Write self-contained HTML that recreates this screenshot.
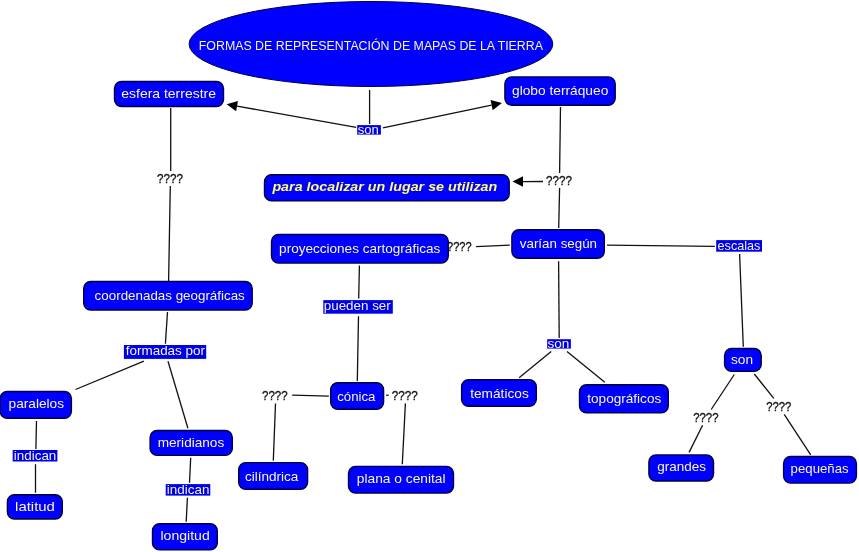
<!DOCTYPE html>
<html><head><meta charset="utf-8"><style>
html,body{margin:0;padding:0;background:#fff;width:859px;height:552px;overflow:hidden}
svg{display:block;font-family:"Liberation Sans",sans-serif;will-change:transform}
line{stroke:#111;stroke-width:1.3}
</style></head><body>
<svg width="859" height="552" viewBox="0 0 859 552">
<ellipse cx="370.95" cy="44" rx="181.85" ry="42.5" fill="#0000ff" stroke="#000040" stroke-width="1"/>
<text x="198.81" y="50" font-size="12.5" fill="#f8f8c4" textLength="344.19" lengthAdjust="spacingAndGlyphs">FORMAS DE REPRESENTACIÓN DE MAPAS DE LA TIERRA</text>
<line x1="369.6" y1="90" x2="369.6" y2="124"/>
<line x1="170.7" y1="108" x2="170.7" y2="171"/>
<line x1="170.3" y1="186" x2="168.6" y2="281"/>
<line x1="560.5" y1="107" x2="559.6" y2="173"/>
<line x1="559.6" y1="188" x2="558.7" y2="228"/>
<line x1="509.8" y1="245.2" x2="476.1" y2="246.6"/>
<line x1="607" y1="245.2" x2="714.8" y2="246.3"/>
<line x1="739.6" y1="254" x2="743.3" y2="346.7"/>
<line x1="359.4" y1="265.6" x2="358.7" y2="298.5"/>
<line x1="358.5" y1="316.2" x2="357.3" y2="380.9"/>
<line x1="328.9" y1="396.2" x2="292.2" y2="395.2"/>
<line x1="275.5" y1="403.4" x2="273.3" y2="460.6"/>
<line x1="386.1" y1="395.2" x2="388.7" y2="395.2"/>
<line x1="405.4" y1="403.4" x2="402.3" y2="464.3"/>
<line x1="558.6" y1="261.3" x2="559.2" y2="338"/>
<line x1="551.2" y1="351.4" x2="519.1" y2="377.7"/>
<line x1="567" y1="351.4" x2="604.8" y2="382.2"/>
<line x1="734.3" y1="374.5" x2="711.2" y2="409.5"/>
<line x1="702.6" y1="425.3" x2="689.1" y2="452.4"/>
<line x1="754.3" y1="374" x2="773.8" y2="398.4"/>
<line x1="784.2" y1="414.4" x2="810.7" y2="454.8"/>
<line x1="167.5" y1="312" x2="165.4" y2="343.8"/>
<line x1="143.9" y1="361.2" x2="75.5" y2="389.5"/>
<line x1="168" y1="361.2" x2="187.9" y2="428.3"/>
<line x1="36.5" y1="421" x2="35.9" y2="448.9"/>
<line x1="35.5" y1="464.2" x2="35.5" y2="492.7"/>
<line x1="190.7" y1="457.8" x2="189.5" y2="482.7"/>
<line x1="187.4" y1="497.8" x2="186.2" y2="521.7"/>
<line x1="356.2" y1="127.3" x2="237.04" y2="106.14"/>
<polygon points="226.7,104.3 237.95,101.02 236.13,111.26" fill="#000" stroke="none"/>
<line x1="382.9" y1="127.8" x2="491.62" y2="105.14"/>
<polygon points="501.9,103 492.68,110.23 490.56,100.05" fill="#000" stroke="none"/>
<line x1="543" y1="181.5" x2="523.00" y2="181.57"/>
<polygon points="512.5,181.6 522.98,176.37 523.02,186.77" fill="#000" stroke="none"/>
<text x="157.11" y="183.00" font-size="13.0" fill="#111" stroke="#111" stroke-width="0.3" textLength="25.82" lengthAdjust="spacingAndGlyphs">????</text>
<text x="546.11" y="185.00" font-size="13.0" fill="#111" stroke="#111" stroke-width="0.3" textLength="25.82" lengthAdjust="spacingAndGlyphs">????</text>
<text x="447.05" y="251.20" font-size="13.0" fill="#111" stroke="#111" stroke-width="0.3" textLength="24.58" lengthAdjust="spacingAndGlyphs">????</text>
<text x="262.01" y="399.80" font-size="13.0" fill="#111" stroke="#111" stroke-width="0.3" textLength="25.62" lengthAdjust="spacingAndGlyphs">????</text>
<text x="391.70" y="399.80" font-size="13.0" fill="#111" stroke="#111" stroke-width="0.3" textLength="26.03" lengthAdjust="spacingAndGlyphs">????</text>
<text x="693.23" y="422.20" font-size="13.0" fill="#111" stroke="#111" stroke-width="0.3" textLength="25.31" lengthAdjust="spacingAndGlyphs">????</text>
<text x="766.13" y="411.10" font-size="13.0" fill="#111" stroke="#111" stroke-width="0.3" textLength="25.20" lengthAdjust="spacingAndGlyphs">????</text>
<rect x="357.2" y="125.1" width="23.70" height="9.50" fill="#0000e8"/>
<text x="357.69" y="133.90" font-size="13.0" fill="#f4f4e0" textLength="21.08" lengthAdjust="spacingAndGlyphs">son</text>
<rect x="323.3" y="300.1" width="69.50" height="13.60" fill="#0000e8"/>
<text x="323.77" y="309.80" font-size="13.0" fill="#f4f4e0" textLength="66.99" lengthAdjust="spacingAndGlyphs">pueden ser</text>
<rect x="123.9" y="345" width="82.30" height="13.90" fill="#0000e8"/>
<text x="125.80" y="355.20" font-size="13.0" fill="#f4f4e0" textLength="79.18" lengthAdjust="spacingAndGlyphs">formadas por</text>
<rect x="716.2" y="240.1" width="45.80" height="11.60" fill="#0000e8"/>
<text x="717.60" y="250.20" font-size="13.0" fill="#f4f4e0" textLength="42.78" lengthAdjust="spacingAndGlyphs">escalas</text>
<rect x="547.2" y="339.2" width="23.70" height="9.40" fill="#0000e8"/>
<text x="547.46" y="347.90" font-size="13.0" fill="#f4f4e0" textLength="21.85" lengthAdjust="spacingAndGlyphs">son</text>
<rect x="12.7" y="450" width="44.70" height="11.50" fill="#0000e8"/>
<text x="13.87" y="459.70" font-size="13.0" fill="#f4f4e0" textLength="42.44" lengthAdjust="spacingAndGlyphs">indican</text>
<rect x="165.7" y="484.1" width="44.60" height="11.50" fill="#0000e8"/>
<text x="166.77" y="493.70" font-size="13.0" fill="#f4f4e0" textLength="42.65" lengthAdjust="spacingAndGlyphs">indican</text>
<rect x="114.5" y="81.5" width="109.00" height="25.00" rx="7" ry="7" fill="#0000ff" stroke="#000040" stroke-width="1.4"/>
<text x="121.27" y="97.8" font-size="13.5" fill="#f8f8c4" textLength="94.70" lengthAdjust="spacingAndGlyphs">esfera terrestre</text>
<rect x="504.9" y="76.9" width="110.30" height="28.30" rx="7" ry="7" fill="#0000ff" stroke="#000040" stroke-width="1.4"/>
<text x="512.00" y="94.5" font-size="13.5" fill="#f8f8c4" textLength="96.29" lengthAdjust="spacingAndGlyphs">globo terráqueo</text>
<rect x="271.5" y="234.5" width="176.80" height="28.60" rx="7" ry="7" fill="#0000ff" stroke="#000040" stroke-width="1.4"/>
<text x="279.10" y="252.9" font-size="13.5" fill="#f8f8c4" textLength="161.18" lengthAdjust="spacingAndGlyphs">proyecciones cartográficas</text>
<rect x="511.9" y="229.8" width="92.40" height="28.40" rx="7" ry="7" fill="#0000ff" stroke="#000040" stroke-width="1.4"/>
<text x="519.80" y="247.8" font-size="13.5" fill="#f8f8c4" textLength="77.25" lengthAdjust="spacingAndGlyphs">varían según</text>
<rect x="83.7" y="281.5" width="168.50" height="28.50" rx="7" ry="7" fill="#0000ff" stroke="#000040" stroke-width="1.4"/>
<text x="94.61" y="299.9" font-size="13.5" fill="#f8f8c4" textLength="150.19" lengthAdjust="spacingAndGlyphs">coordenadas geográficas</text>
<rect x="724.6" y="348.5" width="36.60" height="22.90" rx="7" ry="7" fill="#0000ff" stroke="#000040" stroke-width="1.4"/>
<text x="730.99" y="363.9" font-size="13.5" fill="#f8f8c4" textLength="22.11" lengthAdjust="spacingAndGlyphs">son</text>
<rect x="0.2" y="391.5" width="71.20" height="26.80" rx="7" ry="7" fill="#0000ff" stroke="#000040" stroke-width="1.4"/>
<text x="8.59" y="408.1" font-size="13.5" fill="#f8f8c4" textLength="55.42" lengthAdjust="spacingAndGlyphs">paralelos</text>
<rect x="330.7" y="382.8" width="52.90" height="26.40" rx="7" ry="7" fill="#0000ff" stroke="#000040" stroke-width="1.4"/>
<text x="337.22" y="400.7" font-size="13.5" fill="#f8f8c4" textLength="38.21" lengthAdjust="spacingAndGlyphs">cónica</text>
<rect x="461.6" y="379.7" width="74.70" height="26.50" rx="7" ry="7" fill="#0000ff" stroke="#000040" stroke-width="1.4"/>
<text x="470.20" y="397.5" font-size="13.5" fill="#f8f8c4" textLength="58.59" lengthAdjust="spacingAndGlyphs">temáticos</text>
<rect x="579.5" y="384.7" width="88.80" height="28.20" rx="7" ry="7" fill="#0000ff" stroke="#000040" stroke-width="1.4"/>
<text x="587.30" y="402.5" font-size="13.5" fill="#f8f8c4" textLength="73.95" lengthAdjust="spacingAndGlyphs">topográficos</text>
<rect x="150.1" y="430.5" width="82.20" height="24.90" rx="7" ry="7" fill="#0000ff" stroke="#000040" stroke-width="1.4"/>
<text x="157.69" y="446.8" font-size="13.5" fill="#f8f8c4" textLength="66.54" lengthAdjust="spacingAndGlyphs">meridianos</text>
<rect x="238.7" y="462.6" width="68.90" height="26.70" rx="7" ry="7" fill="#0000ff" stroke="#000040" stroke-width="1.4"/>
<text x="244.90" y="480.6" font-size="13.5" fill="#f8f8c4" textLength="53.49" lengthAdjust="spacingAndGlyphs">cilíndrica</text>
<rect x="348.5" y="466.4" width="105.00" height="26.70" rx="7" ry="7" fill="#0000ff" stroke="#000040" stroke-width="1.4"/>
<text x="356.78" y="483" font-size="13.5" fill="#f8f8c4" textLength="88.82" lengthAdjust="spacingAndGlyphs">plana o cenital</text>
<rect x="648.9" y="454.9" width="64.60" height="26.10" rx="7" ry="7" fill="#0000ff" stroke="#000040" stroke-width="1.4"/>
<text x="657.30" y="471.3" font-size="13.5" fill="#f8f8c4" textLength="48.80" lengthAdjust="spacingAndGlyphs">grandes</text>
<rect x="783.6" y="456.5" width="72.80" height="26.60" rx="7" ry="7" fill="#0000ff" stroke="#000040" stroke-width="1.4"/>
<text x="790.62" y="473.3" font-size="13.5" fill="#f8f8c4" textLength="57.98" lengthAdjust="spacingAndGlyphs">pequeñas</text>
<rect x="7.4" y="494.7" width="54.90" height="24.30" rx="7" ry="7" fill="#0000ff" stroke="#000040" stroke-width="1.4"/>
<text x="15.09" y="511" font-size="13.5" fill="#f8f8c4" textLength="39.85" lengthAdjust="spacingAndGlyphs">latitud</text>
<rect x="152.5" y="523.8" width="64.80" height="26.10" rx="7" ry="7" fill="#0000ff" stroke="#000040" stroke-width="1.4"/>
<text x="160.46" y="539.6" font-size="13.5" fill="#f8f8c4" textLength="49.25" lengthAdjust="spacingAndGlyphs">longitud</text>
<rect x="264.5" y="174.7" width="244.70" height="26.20" rx="7" ry="7" fill="#0000ff" stroke="#000040" stroke-width="1.4"/>
<text x="272.40" y="191" font-size="13.0" fill="#ffff66" font-weight="bold" font-style="italic" textLength="224.90" lengthAdjust="spacingAndGlyphs">para localizar un lugar se utilizan</text>
</svg></body></html>
